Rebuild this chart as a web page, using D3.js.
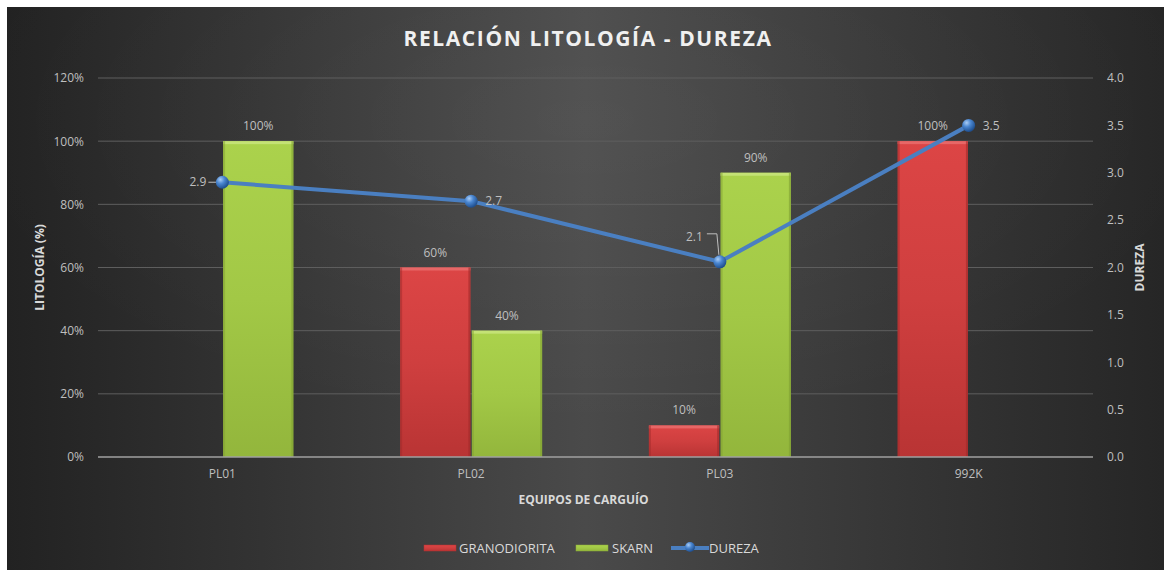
<!DOCTYPE html>
<html><head><meta charset="utf-8">
<script src="https://cdn.jsdelivr.net/npm/d3@7"></script>
<style>
html,body{margin:0;padding:0;background:#fff;}
svg{display:block;}
text{font-family:"Open Sans","Noto Sans",sans-serif;}
</style></head>
<body>
<script>
const categories = ["PL01", "PL02", "PL03", "992K"];
const seriesNames = ["GRANODIORITA", "SKARN"];
const granodiorita = [0, 0.60, 0.10, 1.00];
const skarn = [1.00, 0.40, 0.90, 0];
const dureza = [2.9, 2.7, 2.06, 3.5];
const pctTicks = [0, 0.2, 0.4, 0.6, 0.8, 1.0, 1.2];
const durezaTicks = [0, 0.5, 1.0, 1.5, 2.0, 2.5, 3.0, 3.5, 4.0];

const W = 1164, H = 570;
const svg = d3.select("body").append("svg").attr("width", W).attr("height", H);
const defs = svg.append("defs");

// background gradient: light centre column, dark sides
const bg = defs.append("linearGradient").attr("id","bg").attr("x1","0").attr("y1","0").attr("x2","1").attr("y2","0");
[["0%","#222222"],["22%","#333333"],["50%","#4a4a4a"],["78%","#353535"],["100%","#262626"]]
  .forEach(([o,c]) => bg.append("stop").attr("offset",o).attr("stop-color",c));
const bg2 = defs.append("radialGradient").attr("id","bg2").attr("cx","50%").attr("cy","20%").attr("r","55%");
bg2.append("stop").attr("offset","0%").attr("stop-color","#ffffff").attr("stop-opacity",0.05);
bg2.append("stop").attr("offset","100%").attr("stop-color","#ffffff").attr("stop-opacity",0);
svg.append("rect").attr("x",7).attr("y",7).attr("width",W-7).attr("height",H-7).attr("fill","url(#bg)");
svg.append("rect").attr("x",7).attr("y",7).attr("width",W-7).attr("height",H-7).attr("fill","url(#bg2)");

function barGrad(id, light, mid, dark){
  const g = defs.append("linearGradient").attr("id",id).attr("x1","0").attr("y1","0").attr("x2","0").attr("y2","1");
  g.append("stop").attr("offset","0%").attr("stop-color",light);
  g.append("stop").attr("offset","50%").attr("stop-color",mid);
  g.append("stop").attr("offset","100%").attr("stop-color",dark);
}
barGrad("gRed","#dc4545","#cf3f3f","#b93434");
barGrad("gGreen","#abd24c","#a2c846","#93b63c");
const sg = defs.append("radialGradient").attr("id","sphere").attr("cx","35%").attr("cy","30%").attr("r","70%");
sg.append("stop").attr("offset","0%").attr("stop-color","#a9ccf5");
sg.append("stop").attr("offset","45%").attr("stop-color","#4a86d0");
sg.append("stop").attr("offset","100%").attr("stop-color","#1f4f8f");

const L = 98, R = 1093, T = 78, B = 457;
const x = d3.scaleBand().domain(categories).range([L, R]).paddingInner(0).paddingOuter(0);
const bw = x.bandwidth();
const x1 = d3.scaleBand().domain(seriesNames).range([bw/2 - 71, bw/2 + 71]).paddingInner(0.02);
const y = d3.scaleLinear().domain([0, 1.2]).range([B, T]);
const y2 = d3.scaleLinear().domain([0, 4]).range([B, T]);

const tickColor = "#bfbfbf";

// gridlines
svg.append("g").selectAll("line").data(pctTicks.filter(d => d > 0)).join("line")
  .attr("x1", L).attr("x2", R).attr("y1", d => y(d)).attr("y2", d => y(d))
  .attr("stroke", "#5e5e5e").attr("stroke-width", 1);

// left axis
const yAxis = svg.append("g").attr("transform", `translate(${L},0)`)
  .call(d3.axisLeft(y).tickValues(pctTicks).tickFormat(d3.format(".0%")).tickSize(0).tickPadding(14));
yAxis.select(".domain").remove();
yAxis.selectAll("text").attr("fill", tickColor).style("font-size","12px");

// right axis
const yAxis2 = svg.append("g").attr("transform", `translate(${R},0)`)
  .call(d3.axisRight(y2).tickValues(durezaTicks).tickFormat(d3.format(".1f")).tickSize(0).tickPadding(14));
yAxis2.select(".domain").remove();
yAxis2.selectAll("text").attr("fill", tickColor).style("font-size","12px");

// bars
const series = [
  {name: "GRANODIORITA", values: granodiorita, fill: "url(#gRed)", edge:"#e86a6a", dark:"#9e2a2a"},
  {name: "SKARN", values: skarn, fill: "url(#gGreen)", edge:"#c6e37a", dark:"#7f9f32"}
];
const barsG = svg.append("g");
series.forEach(s => {
  categories.forEach((c, i) => {
    const v = s.values[i];
    if (!v) return;
    const bx = x(c) + x1(s.name), bwid = x1.bandwidth(), by = y(v), bh = B - by;
    barsG.append("rect").attr("x", bx).attr("y", by).attr("width", bwid).attr("height", bh).attr("fill", s.fill);
    barsG.append("rect").attr("x", bx).attr("y", by).attr("width", bwid).attr("height", 3).attr("fill", s.edge).attr("opacity",0.9);
    barsG.append("rect").attr("x", bx).attr("y", by).attr("width", 2).attr("height", bh).attr("fill", s.dark).attr("opacity",0.5);
    barsG.append("rect").attr("x", bx + bwid - 2).attr("y", by).attr("width", 2).attr("height", bh).attr("fill", s.dark).attr("opacity",0.6);
    barsG.append("text").attr("x", bx + bwid/2).attr("y", by - 11).attr("text-anchor","middle")
      .attr("fill", tickColor).style("font-size","12px").text(d3.format(".0%")(v));
  });
});

// baseline
svg.append("line").attr("x1", L).attr("x2", R).attr("y1", B).attr("y2", B).attr("stroke", "#a0a0a0").attr("stroke-width", 1.5);

// category labels
const xAxis = svg.append("g").attr("transform", `translate(0,${B})`)
  .call(d3.axisBottom(x).tickSize(0).tickPadding(12));
xAxis.select(".domain").remove();
xAxis.selectAll("text").attr("fill", tickColor).style("font-size","12px");

// dureza line
const cx = c => x(c) + bw/2;
const line = d3.line().x((d,i) => cx(categories[i])).y(d => y2(d));
svg.append("path").datum(dureza).attr("d", line).attr("fill","none")
  .attr("stroke","#4a7fc1").attr("stroke-width",4).attr("stroke-linejoin","round");

// labels for dureza
const fmt1 = d3.format(".1f");
dureza.forEach((d, i) => {
  const px = cx(categories[i]), py = y2(d);
  const g = svg.append("g");
  const t = g.append("text").attr("fill", tickColor).style("font-size","12px").attr("dy","0.35em").text(fmt1(d));
  if (i === 0) {
    t.attr("x", px - 16).attr("y", py).attr("text-anchor","end");
    g.append("line").attr("x1", px - 14).attr("x2", px - 6).attr("y1", py).attr("y2", py).attr("stroke","#bfbfbf").attr("stroke-width",1);
  } else if (i === 2) {
    t.attr("x", px - 17).attr("y", py - 25).attr("text-anchor","end");
    g.append("polyline").attr("points", `${px-13},${py-28} ${px-3},${py-28} ${px-1},${py-7}`)
      .attr("fill","none").attr("stroke","#bfbfbf").attr("stroke-width",1);
  } else {
    t.attr("x", px + 14).attr("y", py).attr("text-anchor","start");
  }
});
// markers
svg.append("g").selectAll("circle").data(dureza).join("circle")
  .attr("cx", (d,i) => cx(categories[i])).attr("cy", d => y2(d)).attr("r", 6.5)
  .attr("fill","url(#sphere)");

// titles
svg.append("text").attr("x", 588).attr("y", 46).attr("text-anchor","middle")
  .attr("fill","#f0f0f0").style("font-size","21px").style("font-weight","700").style("letter-spacing","1.6px")
  .text("RELACIÓN LITOLOGÍA - DUREZA");
svg.append("text").attr("x", (L+R)/2 - 12).attr("y", 504).attr("text-anchor","middle")
  .attr("fill","#d9d9d9").style("font-size","12px").style("font-weight","700")
  .text("EQUIPOS DE CARGUÍO");
svg.append("text").attr("transform", `translate(44,${(T+B)/2}) rotate(-90)`).attr("text-anchor","middle")
  .attr("fill","#d9d9d9").style("font-size","12px").style("font-weight","700")
  .text("LITOLOGÍA (%)");
svg.append("text").attr("transform", `translate(1144,${(T+B)/2}) rotate(-90)`).attr("text-anchor","middle")
  .attr("fill","#d9d9d9").style("font-size","12px").style("font-weight","700")
  .text("DUREZA");

// legend
const ly = 548;
const leg = svg.append("g").style("font-size","13px");
leg.append("rect").attr("x",424).attr("y",ly-3).attr("width",32).attr("height",6).attr("fill","url(#gRed)").attr("stroke","#b83232").attr("stroke-width",0.5);
leg.append("text").attr("x",459).attr("y",ly).attr("dy","0.35em").attr("fill","#d9d9d9").text("GRANODIORITA");
leg.append("rect").attr("x",576).attr("y",ly-3).attr("width",32).attr("height",6).attr("fill","url(#gGreen)").attr("stroke","#8fb03a").attr("stroke-width",0.5);
leg.append("text").attr("x",612).attr("y",ly).attr("dy","0.35em").attr("fill","#d9d9d9").text("SKARN");
leg.append("line").attr("x1",671).attr("x2",709).attr("y1",ly).attr("y2",ly).attr("stroke","#4a7fc1").attr("stroke-width",4);
leg.append("circle").attr("cx",690).attr("cy",ly-1).attr("r",5).attr("fill","url(#sphere)");
leg.append("text").attr("x",709).attr("y",ly).attr("dy","0.35em").attr("fill","#d9d9d9").text("DUREZA");
</script>
</body></html>
